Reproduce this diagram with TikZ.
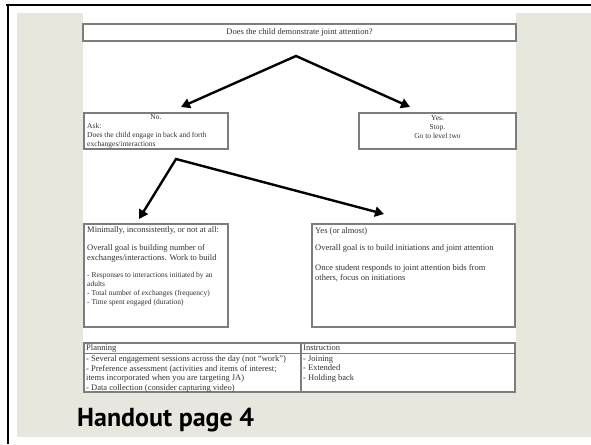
\documentclass[tikz,border=0pt]{standalone}
\usepackage{fontspec}
\setmainfont{Liberation Serif}
\newfontfamily\handfont{PT Sans}
\usetikzlibrary{arrows.meta}
\definecolor{beige}{RGB}{232,231,221}
\definecolor{boxgray}{RGB}{125,125,125}
\definecolor{txt}{RGB}{50,50,50}
\begin{document}
\begin{tikzpicture}[x=1pt,y=-1pt,
  box/.style={draw=boxgray, line width=1.1pt, inner sep=0, outer sep=0, anchor=north west},
  sm/.style={font=\fontsize{7.5}{8.7}\selectfont, text=txt, inner sep=0, align=left, anchor=north west},
  md/.style={font=\fontsize{8.5}{9.6}\selectfont, text=txt, inner sep=0, align=left, anchor=north west},
  arr/.style={line width=2.4pt, line join=miter, {Triangle[length=9pt,width=10pt]}-{Triangle[length=9pt,width=10pt]}}]
\useasboundingbox (0,0) rectangle (591,444);
\fill[white] (0,0) rectangle (591,444);
\fill[beige] (17,13) rectangle (591,437);
\fill[white] (83,13) rectangle (516,393);
\draw[line width=2.5pt] (6,5) -- (591,5);
\draw[line width=2.5pt] (8,4) -- (8,444);
% question
\node[box, minimum width=433pt, minimum height=17pt] (q) at (83,24) {};
\node[font=\fontsize{8.5}{10}\selectfont, text=txt, inner sep=0] (qt) at (q.center) {Does the child demonstrate joint attention?};
% first arrows
\coordinate (a1) at (296,56);
\coordinate (a1l) at (181,107);
\coordinate (a1r) at (410,107);
\draw[arr] (a1l) -- (a1) -- (a1r);
% No box
\node[box, minimum width=144pt, minimum height=36pt] (no) at (84,113) {};
\node[sm, anchor=north] (not) at (156,114.5) {No.};
\node[sm] (ask) at (87,123.5) {Ask:\\Does the child engage in back and forth\\exchanges/interactions};
% Yes box
\node[box, minimum width=157pt, minimum height=36pt] (yes) at (359,113) {};
\node[sm, align=center, anchor=north] (yest) at (437.5,115.5) {Yes.\\Stop.\\Go to level two};
% second arrows
\coordinate (a2) at (176,159);
\coordinate (a2l) at (139,219);
\coordinate (a2r) at (384,214);
\draw[arr] (a2l) -- (a2) -- (a2r);
% Minimal box
\node[box, minimum width=144pt, minimum height=103pt] (mini) at (84,224) {};
\node[md] (m1) at (87,226.5) {Minimally, inconsistently, or not at all:};
\node[md, font=\fontsize{8.5}{10}\selectfont] (m2) at (87,244.5) {Overall goal is building number of\\exchanges/interactions. Work to build};
\node[sm] (m3) at (87,272.5) {- Responses to interactions initiated by an\\adults\\- Total number of exchanges (frequency)\\- Time spent engaged (duration)};
% Yes almost box
\node[box, minimum width=203pt, minimum height=103pt] (alm) at (312,224) {};
\node[md] (y1) at (315,227.5) {Yes (or almost)};
\node[md] (y2) at (315,244.5) {Overall goal is to build initiations and joint attention};
\node[md] (y3) at (315,264.5) {Once student responds to joint attention bids from\\others, focus on initiations};
% table
\node[box, minimum width=431pt, minimum height=49pt] (tab) at (84,343) {};
\draw[boxgray, line width=1.1pt] (84,353.5) -- (515,353.5);
\draw[boxgray, line width=1.1pt] (301,343) -- (301,392);
\node[md] (ph) at (86,344.5) {Planning};
\node[md] (pl) at (86,355.5) {- Several engagement sessions across the day (not “work”)\\- Preference assessment (activities and items of interest;\\items incorporated when you are targeting JA)\\- Data collection (consider capturing video)};
\node[md] (ih) at (303,344.5) {Instruction};
\node[md] (il) at (303,355.5) {- Joining\\- Extended\\- Holding back};
% caption
\node[font=\handfont\bfseries\fontsize{26}{30}\selectfont, anchor=base west, inner sep=0] (cap) at (77,426) {Handout page 4};
\end{tikzpicture}
\end{document}
